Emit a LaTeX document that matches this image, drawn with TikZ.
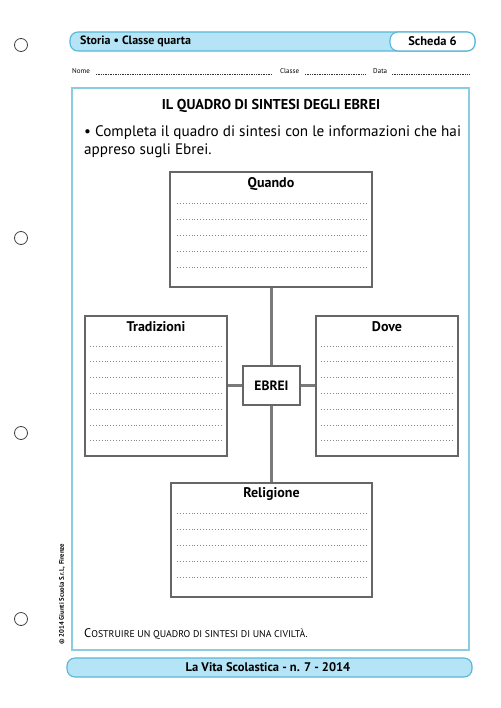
\documentclass[tikz,border=0pt]{standalone}
\usepackage{fontspec}
\setmainfont{PT Sans}
\definecolor{barfill}{HTML}{B5E4F7}
\definecolor{barline}{HTML}{5AB6D6}
\definecolor{framecol}{HTML}{8ACDE2}
\definecolor{boxgray}{HTML}{666666}
\definecolor{linkgray}{HTML}{7A7A7A}
\definecolor{dotgray}{HTML}{888888}
\begin{document}
\begin{tikzpicture}[x=1pt,y=-1pt,
  box/.style={draw=boxgray, line width=1.3pt, fill=white, inner sep=0pt},
  link/.style={draw=linkgray, line width=3pt},
  dotline/.style={draw=dotgray, line width=0.7pt, dash pattern=on 0.7pt off 2.2pt},
  namedots/.style={draw=black!80, line width=0.5pt, dash pattern=on 0.5pt off 1.2pt},
  boxtitle/.style={font=\fontsize{14}{16}\selectfont\bfseries, inner sep=0pt},
  smalltext/.style={anchor=base west, inner sep=0pt, font=\fontsize{7}{8}\selectfont},
  bar/.style={draw=barline, fill=barfill, line width=1.1pt, rounded corners=8pt},
  hole/.style={draw=black!75, line width=0.8pt}]
\useasboundingbox (0,0) rectangle (500,708);
\fill[white] (0,0) rectangle (500,708);
% punch holes
\foreach \y in {45,238,433,619} \draw[hole] (21,\y) circle (6.5);
% header
\draw[bar] (70,32) rectangle (475,51);
\draw[bar, fill=white] (390,32) rectangle (475,51);
\node[anchor=west, inner sep=0pt, font=\fontsize{12}{14}\selectfont\bfseries] (hdr) at (80,41.5) {Storia • Classe quarta};
\node[inner sep=0pt, font=\fontsize{12.5}{14}\selectfont\bfseries] (scheda) at (432.5,41.5) {Scheda 6};
% name line
\node[smalltext] (nome) at (72,74) {Nome};
\draw[namedots] (96,74) -- (272,74);
\node[smalltext] (classe) at (280,74) {Classe};
\draw[namedots] (305,74) -- (365,74);
\node[smalltext] (data) at (373,74) {Data};
\draw[namedots] (392,74) -- (470,74);
% frame
\draw[framecol, line width=1.2pt] (72,88) rectangle (469,650);
% title
\node[inner sep=0pt, font=\fontsize{14.3}{16}\selectfont\bfseries] (title) at (271,106) {IL QUADRO DI SINTESI DEGLI EBREI};
\node[anchor=north west, inner sep=0pt, align=left, font=\fontsize{15.2}{18}\selectfont] (instr) at (84,125) {• Completa il quadro di sintesi con le informazioni che hai\\appreso sugli Ebrei.};
% boxes
\node[box, minimum width=202pt, minimum height=115pt] (quando) at (271,229.5) {};
\node[box, minimum width=142pt, minimum height=140pt] (trad) at (156,386) {};
\node[box, minimum width=142pt, minimum height=140pt] (dove) at (387,386) {};
\node[box, minimum width=201pt, minimum height=114pt] (relig) at (271.5,540) {};
\node[box, minimum width=57pt, minimum height=39pt, font=\fontsize{13.5}{15}\selectfont\bfseries] (ebrei) at (271.5,385.5) {EBREI};
% connectors
\draw[link] (quando.south -| ebrei.north) -- (ebrei.north);
\draw[link] (ebrei.south) -- (relig.north -| ebrei.south);
\draw[link] (trad.east |- ebrei.west) -- (ebrei.west);
\draw[link] (ebrei.east) -- (dove.west |- ebrei.east);
% titles
\node[boxtitle] (tq) at (271,184) {Quando};
\node[boxtitle] (tt) at (156,327) {Tradizioni};
\node[boxtitle] (td) at (387,327) {Dove};
\node[boxtitle] (tr) at (271.5,494) {Religione};
% dotted lines
\foreach \k in {0,...,4} {
  \draw[dotline] (177,203+16*\k) -- (366,203+16*\k);
  \draw[dotline] (177,513+16*\k) -- (366,513+16*\k);
}
\foreach \k in {0,...,6} {
  \draw[dotline] (90,346+15.8*\k) -- (222,346+15.8*\k);
  \draw[dotline] (321,346+15.8*\k) -- (453,346+15.8*\k);
}
% bottom caption
\node[anchor=base west, inner sep=0pt] (capt) at (84,637) {\fontsize{12.5}{14}\selectfont C\fontsize{9.8}{11}\selectfont OSTRUIRE UN QUADRO DI SINTESI DI UNA CIVILTÀ.};
% copyright
\node[rotate=90, inner sep=0pt, font=\fontsize{6.7}{7}\selectfont\bfseries] (copy) at (62,594) {© 2014 Giunti Scuola S.r.l., Firenze};
% footer
\draw[bar] (67,658) rectangle (472,677);
\node[inner sep=0pt, font=\fontsize{12.5}{14}\selectfont\bfseries] (foot) at (268,667.5) {La Vita Scolastica - n. 7 - 2014};
\end{tikzpicture}
\end{document}
